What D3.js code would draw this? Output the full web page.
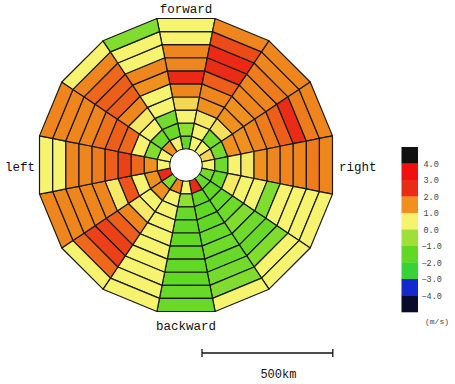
<!DOCTYPE html>
<html>
<head>
<meta charset="utf-8">
<script src="https://cdn.jsdelivr.net/npm/d3@7"></script>
<style>
  body { margin: 0; background: #fff; }
  svg { display: block; }
  text { font-family: "Liberation Mono", "Courier New", monospace; }
</style>
</head>
<body>
<div id="chart"></div>
<script>
// bearings of the 16 sectors, clockwise from "forward"
const bearings = [0, 22.5, 45, 67.5, 90, 112.5, 135, 157.5, 180, 202.5, 225, 247.5, 270, 292.5, 315, 337.5];
// ring edges (km from centre)
const ringEdges = [60, 110, 160, 210, 260, 310, 360, 410, 460, 510, 560];

// wind speed (m/s) per sector, inner ring -> outer ring
const s0  = [-1.5, -0.8, 0.5, 0.8, 1.6, 2.6, 1.6, 1.6, 0.5, 0.5];
const s1  = [0.5, 0.5, 0.6, 1.5, 1.6, 2.0, 2.5, 2.6, 2.2, 1.6];
const s2  = [0.5, -1.2, 0.7, 1.5, 1.5, 1.6, 1.6, 1.7, 1.6, 1.6];
const s3  = [0.8, -1.2, 1.5, 1.5, 1.6, 1.7, 2.0, 2.5, 1.7, 1.6];
const s4  = [0.5, -1.3, 0.5, 0.6, 1.5, 1.6, 1.6, 1.6, 1.7, 1.6];
const s5  = [-1.2, -1.4, 0.6, 0.5, 0.5, -1.0, 0.5, 0.5, 0.5, 0.5];
const s6  = [-1.4, -1.5, -1.4, -1.3, -1.0, -1.3, -1.4, -1.0, 0.5, 0.5];
const s7  = [2.6, -1.5, -1.5, -1.5, -1.4, -1.3, -1.4, -1.2, -1.0, 0.5];
const s8  = [0.5, -0.7, -1.4, -1.5, -1.5, -1.5, -1.5, -1.5, -1.4, -1.4];
const s9  = [1.6, 0.5, 0.5, 0.5, 0.5, 0.5, 0.5, 0.5, 0.5, 0.5];
const s10 = [-1.0, 1.5, 0.5, 0.6, 1.6, 2.0, 2.3, 2.3, 1.9, 0.5];
const s11 = [2.6, 1.5, 0.5, 2.1, 0.6, 1.6, 1.6, 1.6, 1.6, 1.6];
const s12 = [0.5, 1.5, 1.9, 2.3, 2.0, 1.7, 1.6, 1.6, 0.5, 0.5];
const s13 = [0.5, -1.0, 0.5, 1.9, 2.0, 1.8, 1.6, 1.6, 1.6, 1.6];
const s14 = [1.5, -1.3, 0.5, 0.6, 1.6, 2.0, 2.0, 1.9, 1.6, 0.5];
const s15 = [0.5, -1.4, -1.2, 0.5, 0.5, 1.5, 1.6, 0.5, 0.5, -1.0];
const speeds = [s0, s1, s2, s3, s4, s5, s6, s7, s8, s9, s10, s11, s12, s13, s14, s15];

const dirLabels = ["forward", "right", "backward", "left"];
const legendTicks = [4, 3, 2, 1, 0, -1, -2, -3, -4];
const legendBins = [4.5, 3.5, 2.5, 1.5, 0.5, -0.5, -1.5, -2.5, -3.5, -4.5];

const width = 455, height = 384;
const cx = 186, cy = 165;

const svg = d3.select("#chart").append("svg")
  .attr("width", width)
  .attr("height", height);

// km -> px
const r = d3.scaleLinear().domain([0, 560]).range([0, 146.5]);

// colour for wind speed
const color = d3.scaleLinear()
  .domain([-4.5, -3.5, -2.5, -1.5, -0.5, 0.5, 1.5, 2.5, 3.5, 4.5])
  .range(["#0a0a2a", "#1428d0", "#36d236", "#62d826", "#9ee038", "#f6f36e", "#f0901e", "#ea2c16", "#f01010", "#111111"])
  .clamp(true);

const half = 11.25 * Math.PI / 180;

function pt(rad, ang) {
  return [cx + rad * Math.sin(ang), cy - rad * Math.cos(ang)];
}

const cells = [];
bearings.forEach((b, i) => {
  speeds[i].forEach((v, k) => {
    cells.push({ b: b * Math.PI / 180, r0: r(ringEdges[k]), r1: r(ringEdges[k + 1]), v: v });
  });
});

svg.append("g").selectAll("polygon")
  .data(cells)
  .enter()
  .append("polygon")
  .attr("points", d => {
    const a = d.r0 / Math.cos(half), c = d.r1 / Math.cos(half);
    return [pt(a, d.b - half), pt(c, d.b - half), pt(c, d.b + half), pt(a, d.b + half)]
      .map(p => p.join(",")).join(" ");
  })
  .attr("fill", d => color(d.v))
  .attr("stroke", "#1a1a1a")
  .attr("stroke-width", 1.2)
  .attr("stroke-linejoin", "round");

// hole in the middle
svg.append("circle")
  .attr("cx", cx)
  .attr("cy", cy)
  .attr("r", r(60) + 0.6)
  .attr("fill", "#fff")
  .attr("stroke", "#1a1a1a")
  .attr("stroke-width", 1);

// direction labels
const labelPos = [
  { x: cx, y: 13, anchor: "middle" },
  { x: 339, y: 171, anchor: "start" },
  { x: cx, y: 330, anchor: "middle" },
  { x: 5, y: 171, anchor: "start" }
];
svg.selectAll(".dir")
  .data(dirLabels)
  .enter()
  .append("text")
  .attr("class", "dir")
  .attr("x", (d, i) => labelPos[i].x)
  .attr("y", (d, i) => labelPos[i].y)
  .attr("text-anchor", (d, i) => labelPos[i].anchor)
  .attr("font-size", 12.5)
  .attr("fill", "#111")
  .text(d => d);

// colour legend
const ly = d3.scaleLinear().domain([5, -5]).range([147, 312]);
const legend = svg.append("g");
legend.selectAll("rect")
  .data(legendBins)
  .enter()
  .append("rect")
  .attr("x", 401.5)
  .attr("y", d => ly(d + 0.5))
  .attr("width", 16.5)
  .attr("height", d => ly(d - 0.5) - ly(d + 0.5) + 0.3)
  .attr("fill", d => color(d));

legend.selectAll("text")
  .data(legendTicks)
  .enter()
  .append("text")
  .attr("x", d => d < 0 ? 421.5 : 423.5)
  .attr("y", d => ly(d) + 3)
  .attr("font-size", 8.5)
  .attr("fill", "#444")
  .text(d => d3.format(".1f")(d));

legend.append("text")
  .attr("x", 425)
  .attr("y", 324)
  .attr("font-size", 8)
  .attr("fill", "#444")
  .text("(m/s)");

// distance bar
const barX = 202, barY = 353;
const bar = svg.append("g").attr("stroke", "#111").attr("stroke-width", 1.3);
bar.append("line").attr("x1", barX).attr("x2", barX + r(500)).attr("y1", barY).attr("y2", barY);
bar.append("line").attr("x1", barX).attr("x2", barX).attr("y1", barY - 4).attr("y2", barY + 4);
bar.append("line").attr("x1", barX + r(500)).attr("x2", barX + r(500)).attr("y1", barY - 4).attr("y2", barY + 4);

svg.append("text")
  .attr("x", barX + r(500) / 2 + 11)
  .attr("y", 378)
  .attr("text-anchor", "middle")
  .attr("font-size", 12)
  .attr("fill", "#111")
  .text("500km");
</script>
</body>
</html>
